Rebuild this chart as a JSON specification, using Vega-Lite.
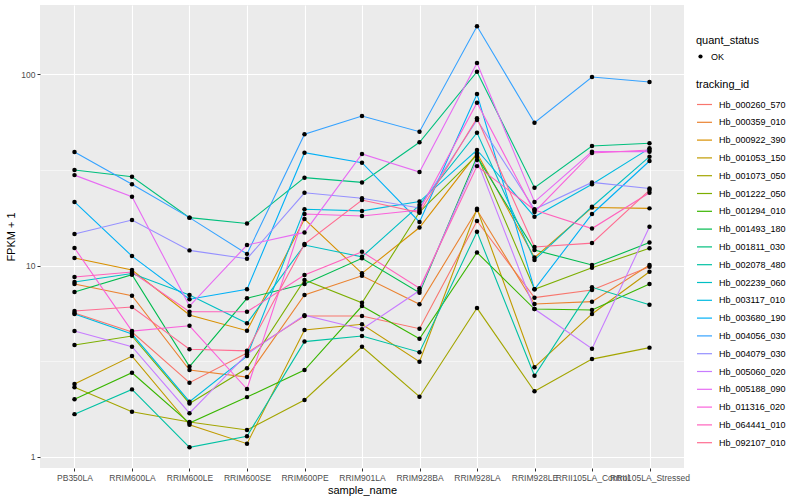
{
"$schema":"https://vega.github.io/schema/vega-lite/v6.json",
"autosize":{"type":"none"},
"padding":{"left":40,"top":5,"right":116,"bottom":32},
"width":644,"height":463,
"datasets":{"expr":[
{"tracking_id":"Hb_000260_570","sample_name":"PB350LA","fpkm":5.64,"quant_status":"OK"},
{"tracking_id":"Hb_000260_570","sample_name":"RRIM600LA","fpkm":4.49,"quant_status":"OK"},
{"tracking_id":"Hb_000260_570","sample_name":"RRIM600LE","fpkm":2.44,"quant_status":"OK"},
{"tracking_id":"Hb_000260_570","sample_name":"RRIM600SE","fpkm":3.49,"quant_status":"OK"},
{"tracking_id":"Hb_000260_570","sample_name":"RRIM600PE","fpkm":5.44,"quant_status":"OK"},
{"tracking_id":"Hb_000260_570","sample_name":"RRIM901LA","fpkm":5.44,"quant_status":"OK"},
{"tracking_id":"Hb_000260_570","sample_name":"RRIM928BA","fpkm":4.67,"quant_status":"OK"},
{"tracking_id":"Hb_000260_570","sample_name":"RRIM928LA","fpkm":17.1,"quant_status":"OK"},
{"tracking_id":"Hb_000260_570","sample_name":"RRIM928LE","fpkm":6.79,"quant_status":"OK"},
{"tracking_id":"Hb_000260_570","sample_name":"RRII105LA_Control","fpkm":7.45,"quant_status":"OK"},
{"tracking_id":"Hb_000260_570","sample_name":"RRII105LA_Stressed","fpkm":9.86,"quant_status":"OK"},
{"tracking_id":"Hb_000359_010","sample_name":"PB350LA","fpkm":8.0,"quant_status":"OK"},
{"tracking_id":"Hb_000359_010","sample_name":"RRIM600LA","fpkm":6.95,"quant_status":"OK"},
{"tracking_id":"Hb_000359_010","sample_name":"RRIM600LE","fpkm":2.84,"quant_status":"OK"},
{"tracking_id":"Hb_000359_010","sample_name":"RRIM600SE","fpkm":2.61,"quant_status":"OK"},
{"tracking_id":"Hb_000359_010","sample_name":"RRIM600PE","fpkm":7.01,"quant_status":"OK"},
{"tracking_id":"Hb_000359_010","sample_name":"RRIM901LA","fpkm":8.84,"quant_status":"OK"},
{"tracking_id":"Hb_000359_010","sample_name":"RRIM928BA","fpkm":6.27,"quant_status":"OK"},
{"tracking_id":"Hb_000359_010","sample_name":"RRIM928LA","fpkm":19.5,"quant_status":"OK"},
{"tracking_id":"Hb_000359_010","sample_name":"RRIM928LE","fpkm":6.29,"quant_status":"OK"},
{"tracking_id":"Hb_000359_010","sample_name":"RRII105LA_Control","fpkm":6.47,"quant_status":"OK"},
{"tracking_id":"Hb_000359_010","sample_name":"RRII105LA_Stressed","fpkm":10.06,"quant_status":"OK"},
{"tracking_id":"Hb_000922_390","sample_name":"PB350LA","fpkm":10.95,"quant_status":"OK"},
{"tracking_id":"Hb_000922_390","sample_name":"RRIM600LA","fpkm":9.47,"quant_status":"OK"},
{"tracking_id":"Hb_000922_390","sample_name":"RRIM600LE","fpkm":5.51,"quant_status":"OK"},
{"tracking_id":"Hb_000922_390","sample_name":"RRIM600SE","fpkm":4.56,"quant_status":"OK"},
{"tracking_id":"Hb_000922_390","sample_name":"RRIM600PE","fpkm":17.5,"quant_status":"OK"},
{"tracking_id":"Hb_000922_390","sample_name":"RRIM901LA","fpkm":9.1,"quant_status":"OK"},
{"tracking_id":"Hb_000922_390","sample_name":"RRIM928BA","fpkm":15.8,"quant_status":"OK"},
{"tracking_id":"Hb_000922_390","sample_name":"RRIM928LA","fpkm":38.6,"quant_status":"OK"},
{"tracking_id":"Hb_000922_390","sample_name":"RRIM928LE","fpkm":11.0,"quant_status":"OK"},
{"tracking_id":"Hb_000922_390","sample_name":"RRII105LA_Control","fpkm":20.1,"quant_status":"OK"},
{"tracking_id":"Hb_000922_390","sample_name":"RRII105LA_Stressed","fpkm":19.9,"quant_status":"OK"},
{"tracking_id":"Hb_001053_150","sample_name":"PB350LA","fpkm":2.4,"quant_status":"OK"},
{"tracking_id":"Hb_001053_150","sample_name":"RRIM600LA","fpkm":3.36,"quant_status":"OK"},
{"tracking_id":"Hb_001053_150","sample_name":"RRIM600LE","fpkm":1.47,"quant_status":"OK"},
{"tracking_id":"Hb_001053_150","sample_name":"RRIM600SE","fpkm":1.17,"quant_status":"OK"},
{"tracking_id":"Hb_001053_150","sample_name":"RRIM600PE","fpkm":4.6,"quant_status":"OK"},
{"tracking_id":"Hb_001053_150","sample_name":"RRIM901LA","fpkm":4.93,"quant_status":"OK"},
{"tracking_id":"Hb_001053_150","sample_name":"RRIM928BA","fpkm":3.14,"quant_status":"OK"},
{"tracking_id":"Hb_001053_150","sample_name":"RRIM928LA","fpkm":19.8,"quant_status":"OK"},
{"tracking_id":"Hb_001053_150","sample_name":"RRIM928LE","fpkm":2.94,"quant_status":"OK"},
{"tracking_id":"Hb_001053_150","sample_name":"RRII105LA_Control","fpkm":5.58,"quant_status":"OK"},
{"tracking_id":"Hb_001053_150","sample_name":"RRII105LA_Stressed","fpkm":9.28,"quant_status":"OK"},
{"tracking_id":"Hb_001073_050","sample_name":"PB350LA","fpkm":2.31,"quant_status":"OK"},
{"tracking_id":"Hb_001073_050","sample_name":"RRIM600LA","fpkm":1.72,"quant_status":"OK"},
{"tracking_id":"Hb_001073_050","sample_name":"RRIM600LE","fpkm":1.52,"quant_status":"OK"},
{"tracking_id":"Hb_001073_050","sample_name":"RRIM600SE","fpkm":1.38,"quant_status":"OK"},
{"tracking_id":"Hb_001073_050","sample_name":"RRIM600PE","fpkm":1.98,"quant_status":"OK"},
{"tracking_id":"Hb_001073_050","sample_name":"RRIM901LA","fpkm":3.76,"quant_status":"OK"},
{"tracking_id":"Hb_001073_050","sample_name":"RRIM928BA","fpkm":2.06,"quant_status":"OK"},
{"tracking_id":"Hb_001073_050","sample_name":"RRIM928LA","fpkm":5.99,"quant_status":"OK"},
{"tracking_id":"Hb_001073_050","sample_name":"RRIM928LE","fpkm":2.2,"quant_status":"OK"},
{"tracking_id":"Hb_001073_050","sample_name":"RRII105LA_Control","fpkm":3.24,"quant_status":"OK"},
{"tracking_id":"Hb_001073_050","sample_name":"RRII105LA_Stressed","fpkm":3.72,"quant_status":"OK"},
{"tracking_id":"Hb_001222_050","sample_name":"PB350LA","fpkm":3.84,"quant_status":"OK"},
{"tracking_id":"Hb_001222_050","sample_name":"RRIM600LA","fpkm":4.28,"quant_status":"OK"},
{"tracking_id":"Hb_001222_050","sample_name":"RRIM600LE","fpkm":1.9,"quant_status":"OK"},
{"tracking_id":"Hb_001222_050","sample_name":"RRIM600SE","fpkm":2.9,"quant_status":"OK"},
{"tracking_id":"Hb_001222_050","sample_name":"RRIM600PE","fpkm":8.4,"quant_status":"OK"},
{"tracking_id":"Hb_001222_050","sample_name":"RRIM901LA","fpkm":6.39,"quant_status":"OK"},
{"tracking_id":"Hb_001222_050","sample_name":"RRIM928BA","fpkm":19.05,"quant_status":"OK"},
{"tracking_id":"Hb_001222_050","sample_name":"RRIM928LA","fpkm":37.8,"quant_status":"OK"},
{"tracking_id":"Hb_001222_050","sample_name":"RRIM928LE","fpkm":7.51,"quant_status":"OK"},
{"tracking_id":"Hb_001222_050","sample_name":"RRII105LA_Control","fpkm":9.74,"quant_status":"OK"},
{"tracking_id":"Hb_001222_050","sample_name":"RRII105LA_Stressed","fpkm":12.3,"quant_status":"OK"},
{"tracking_id":"Hb_001294_010","sample_name":"PB350LA","fpkm":2.0,"quant_status":"OK"},
{"tracking_id":"Hb_001294_010","sample_name":"RRIM600LA","fpkm":2.75,"quant_status":"OK"},
{"tracking_id":"Hb_001294_010","sample_name":"RRIM600LE","fpkm":1.5,"quant_status":"OK"},
{"tracking_id":"Hb_001294_010","sample_name":"RRIM600SE","fpkm":2.05,"quant_status":"OK"},
{"tracking_id":"Hb_001294_010","sample_name":"RRIM600PE","fpkm":2.84,"quant_status":"OK"},
{"tracking_id":"Hb_001294_010","sample_name":"RRIM901LA","fpkm":6.14,"quant_status":"OK"},
{"tracking_id":"Hb_001294_010","sample_name":"RRIM928BA","fpkm":4.14,"quant_status":"OK"},
{"tracking_id":"Hb_001294_010","sample_name":"RRIM928LA","fpkm":11.7,"quant_status":"OK"},
{"tracking_id":"Hb_001294_010","sample_name":"RRIM928LE","fpkm":5.92,"quant_status":"OK"},
{"tracking_id":"Hb_001294_010","sample_name":"RRII105LA_Control","fpkm":5.85,"quant_status":"OK"},
{"tracking_id":"Hb_001294_010","sample_name":"RRII105LA_Stressed","fpkm":8.0,"quant_status":"OK"},
{"tracking_id":"Hb_001493_180","sample_name":"PB350LA","fpkm":7.27,"quant_status":"OK"},
{"tracking_id":"Hb_001493_180","sample_name":"RRIM600LA","fpkm":8.95,"quant_status":"OK"},
{"tracking_id":"Hb_001493_180","sample_name":"RRIM600LE","fpkm":2.96,"quant_status":"OK"},
{"tracking_id":"Hb_001493_180","sample_name":"RRIM600SE","fpkm":6.74,"quant_status":"OK"},
{"tracking_id":"Hb_001493_180","sample_name":"RRIM600PE","fpkm":8.0,"quant_status":"OK"},
{"tracking_id":"Hb_001493_180","sample_name":"RRIM901LA","fpkm":10.9,"quant_status":"OK"},
{"tracking_id":"Hb_001493_180","sample_name":"RRIM928BA","fpkm":7.21,"quant_status":"OK"},
{"tracking_id":"Hb_001493_180","sample_name":"RRIM928LA","fpkm":37.1,"quant_status":"OK"},
{"tracking_id":"Hb_001493_180","sample_name":"RRIM928LE","fpkm":12.05,"quant_status":"OK"},
{"tracking_id":"Hb_001493_180","sample_name":"RRII105LA_Control","fpkm":10.06,"quant_status":"OK"},
{"tracking_id":"Hb_001493_180","sample_name":"RRII105LA_Stressed","fpkm":13.2,"quant_status":"OK"},
{"tracking_id":"Hb_001811_030","sample_name":"PB350LA","fpkm":31.6,"quant_status":"OK"},
{"tracking_id":"Hb_001811_030","sample_name":"RRIM600LA","fpkm":29.1,"quant_status":"OK"},
{"tracking_id":"Hb_001811_030","sample_name":"RRIM600LE","fpkm":17.8,"quant_status":"OK"},
{"tracking_id":"Hb_001811_030","sample_name":"RRIM600SE","fpkm":16.6,"quant_status":"OK"},
{"tracking_id":"Hb_001811_030","sample_name":"RRIM600PE","fpkm":28.8,"quant_status":"OK"},
{"tracking_id":"Hb_001811_030","sample_name":"RRIM901LA","fpkm":27.2,"quant_status":"OK"},
{"tracking_id":"Hb_001811_030","sample_name":"RRIM928BA","fpkm":44.1,"quant_status":"OK"},
{"tracking_id":"Hb_001811_030","sample_name":"RRIM928LA","fpkm":103.2,"quant_status":"OK"},
{"tracking_id":"Hb_001811_030","sample_name":"RRIM928LE","fpkm":25.5,"quant_status":"OK"},
{"tracking_id":"Hb_001811_030","sample_name":"RRII105LA_Control","fpkm":42.2,"quant_status":"OK"},
{"tracking_id":"Hb_001811_030","sample_name":"RRII105LA_Stressed","fpkm":43.6,"quant_status":"OK"},
{"tracking_id":"Hb_002078_480","sample_name":"PB350LA","fpkm":1.67,"quant_status":"OK"},
{"tracking_id":"Hb_002078_480","sample_name":"RRIM600LA","fpkm":2.25,"quant_status":"OK"},
{"tracking_id":"Hb_002078_480","sample_name":"RRIM600LE","fpkm":1.12,"quant_status":"OK"},
{"tracking_id":"Hb_002078_480","sample_name":"RRIM600SE","fpkm":1.28,"quant_status":"OK"},
{"tracking_id":"Hb_002078_480","sample_name":"RRIM600PE","fpkm":4.0,"quant_status":"OK"},
{"tracking_id":"Hb_002078_480","sample_name":"RRIM901LA","fpkm":4.28,"quant_status":"OK"},
{"tracking_id":"Hb_002078_480","sample_name":"RRIM928BA","fpkm":3.52,"quant_status":"OK"},
{"tracking_id":"Hb_002078_480","sample_name":"RRIM928LA","fpkm":15.0,"quant_status":"OK"},
{"tracking_id":"Hb_002078_480","sample_name":"RRIM928LE","fpkm":2.65,"quant_status":"OK"},
{"tracking_id":"Hb_002078_480","sample_name":"RRII105LA_Control","fpkm":7.69,"quant_status":"OK"},
{"tracking_id":"Hb_002078_480","sample_name":"RRII105LA_Stressed","fpkm":6.24,"quant_status":"OK"},
{"tracking_id":"Hb_002239_060","sample_name":"PB350LA","fpkm":8.2,"quant_status":"OK"},
{"tracking_id":"Hb_002239_060","sample_name":"RRIM600LA","fpkm":9.08,"quant_status":"OK"},
{"tracking_id":"Hb_002239_060","sample_name":"RRIM600LE","fpkm":7.01,"quant_status":"OK"},
{"tracking_id":"Hb_002239_060","sample_name":"RRIM600SE","fpkm":4.99,"quant_status":"OK"},
{"tracking_id":"Hb_002239_060","sample_name":"RRIM600PE","fpkm":12.8,"quant_status":"OK"},
{"tracking_id":"Hb_002239_060","sample_name":"RRIM901LA","fpkm":11.1,"quant_status":"OK"},
{"tracking_id":"Hb_002239_060","sample_name":"RRIM928BA","fpkm":20.7,"quant_status":"OK"},
{"tracking_id":"Hb_002239_060","sample_name":"RRIM928LA","fpkm":49.5,"quant_status":"OK"},
{"tracking_id":"Hb_002239_060","sample_name":"RRIM928LE","fpkm":10.7,"quant_status":"OK"},
{"tracking_id":"Hb_002239_060","sample_name":"RRII105LA_Control","fpkm":20.3,"quant_status":"OK"},
{"tracking_id":"Hb_002239_060","sample_name":"RRII105LA_Stressed","fpkm":37.1,"quant_status":"OK"},
{"tracking_id":"Hb_003117_010","sample_name":"PB350LA","fpkm":5.58,"quant_status":"OK"},
{"tracking_id":"Hb_003117_010","sample_name":"RRIM600LA","fpkm":4.38,"quant_status":"OK"},
{"tracking_id":"Hb_003117_010","sample_name":"RRIM600LE","fpkm":1.94,"quant_status":"OK"},
{"tracking_id":"Hb_003117_010","sample_name":"RRIM600SE","fpkm":3.36,"quant_status":"OK"},
{"tracking_id":"Hb_003117_010","sample_name":"RRIM600PE","fpkm":19.7,"quant_status":"OK"},
{"tracking_id":"Hb_003117_010","sample_name":"RRIM901LA","fpkm":19.3,"quant_status":"OK"},
{"tracking_id":"Hb_003117_010","sample_name":"RRIM928BA","fpkm":21.6,"quant_status":"OK"},
{"tracking_id":"Hb_003117_010","sample_name":"RRIM928LA","fpkm":40.2,"quant_status":"OK"},
{"tracking_id":"Hb_003117_010","sample_name":"RRIM928LE","fpkm":18.0,"quant_status":"OK"},
{"tracking_id":"Hb_003117_010","sample_name":"RRII105LA_Control","fpkm":26.6,"quant_status":"OK"},
{"tracking_id":"Hb_003117_010","sample_name":"RRII105LA_Stressed","fpkm":41.0,"quant_status":"OK"},
{"tracking_id":"Hb_003680_190","sample_name":"PB350LA","fpkm":21.5,"quant_status":"OK"},
{"tracking_id":"Hb_003680_190","sample_name":"RRIM600LA","fpkm":11.2,"quant_status":"OK"},
{"tracking_id":"Hb_003680_190","sample_name":"RRIM600LE","fpkm":6.66,"quant_status":"OK"},
{"tracking_id":"Hb_003680_190","sample_name":"RRIM600SE","fpkm":7.51,"quant_status":"OK"},
{"tracking_id":"Hb_003680_190","sample_name":"RRIM600PE","fpkm":38.9,"quant_status":"OK"},
{"tracking_id":"Hb_003680_190","sample_name":"RRIM901LA","fpkm":34.5,"quant_status":"OK"},
{"tracking_id":"Hb_003680_190","sample_name":"RRIM928BA","fpkm":16.9,"quant_status":"OK"},
{"tracking_id":"Hb_003680_190","sample_name":"RRIM928LA","fpkm":78.9,"quant_status":"OK"},
{"tracking_id":"Hb_003680_190","sample_name":"RRIM928LE","fpkm":7.51,"quant_status":"OK"},
{"tracking_id":"Hb_003680_190","sample_name":"RRII105LA_Control","fpkm":18.6,"quant_status":"OK"},
{"tracking_id":"Hb_003680_190","sample_name":"RRII105LA_Stressed","fpkm":35.2,"quant_status":"OK"},
{"tracking_id":"Hb_004056_030","sample_name":"PB350LA","fpkm":39.2,"quant_status":"OK"},
{"tracking_id":"Hb_004056_030","sample_name":"RRIM600LA","fpkm":26.6,"quant_status":"OK"},
{"tracking_id":"Hb_004056_030","sample_name":"RRIM600LE","fpkm":17.8,"quant_status":"OK"},
{"tracking_id":"Hb_004056_030","sample_name":"RRIM600SE","fpkm":11.5,"quant_status":"OK"},
{"tracking_id":"Hb_004056_030","sample_name":"RRIM600PE","fpkm":48.6,"quant_status":"OK"},
{"tracking_id":"Hb_004056_030","sample_name":"RRIM901LA","fpkm":60.5,"quant_status":"OK"},
{"tracking_id":"Hb_004056_030","sample_name":"RRIM928BA","fpkm":50.1,"quant_status":"OK"},
{"tracking_id":"Hb_004056_030","sample_name":"RRIM928LA","fpkm":178.2,"quant_status":"OK"},
{"tracking_id":"Hb_004056_030","sample_name":"RRIM928LE","fpkm":55.8,"quant_status":"OK"},
{"tracking_id":"Hb_004056_030","sample_name":"RRII105LA_Control","fpkm":96.8,"quant_status":"OK"},
{"tracking_id":"Hb_004056_030","sample_name":"RRII105LA_Stressed","fpkm":91.1,"quant_status":"OK"},
{"tracking_id":"Hb_004079_030","sample_name":"PB350LA","fpkm":14.6,"quant_status":"OK"},
{"tracking_id":"Hb_004079_030","sample_name":"RRIM600LA","fpkm":17.3,"quant_status":"OK"},
{"tracking_id":"Hb_004079_030","sample_name":"RRIM600LE","fpkm":12.0,"quant_status":"OK"},
{"tracking_id":"Hb_004079_030","sample_name":"RRIM600SE","fpkm":10.85,"quant_status":"OK"},
{"tracking_id":"Hb_004079_030","sample_name":"RRIM600PE","fpkm":24.0,"quant_status":"OK"},
{"tracking_id":"Hb_004079_030","sample_name":"RRIM901LA","fpkm":22.5,"quant_status":"OK"},
{"tracking_id":"Hb_004079_030","sample_name":"RRIM928BA","fpkm":20.0,"quant_status":"OK"},
{"tracking_id":"Hb_004079_030","sample_name":"RRIM928LA","fpkm":57.7,"quant_status":"OK"},
{"tracking_id":"Hb_004079_030","sample_name":"RRIM928LE","fpkm":19.7,"quant_status":"OK"},
{"tracking_id":"Hb_004079_030","sample_name":"RRII105LA_Control","fpkm":27.2,"quant_status":"OK"},
{"tracking_id":"Hb_004079_030","sample_name":"RRII105LA_Stressed","fpkm":25.3,"quant_status":"OK"},
{"tracking_id":"Hb_005060_020","sample_name":"PB350LA","fpkm":4.54,"quant_status":"OK"},
{"tracking_id":"Hb_005060_020","sample_name":"RRIM600LA","fpkm":3.76,"quant_status":"OK"},
{"tracking_id":"Hb_005060_020","sample_name":"RRIM600LE","fpkm":1.69,"quant_status":"OK"},
{"tracking_id":"Hb_005060_020","sample_name":"RRIM600SE","fpkm":3.44,"quant_status":"OK"},
{"tracking_id":"Hb_005060_020","sample_name":"RRIM600PE","fpkm":5.5,"quant_status":"OK"},
{"tracking_id":"Hb_005060_020","sample_name":"RRIM901LA","fpkm":4.64,"quant_status":"OK"},
{"tracking_id":"Hb_005060_020","sample_name":"RRIM928BA","fpkm":7.4,"quant_status":"OK"},
{"tracking_id":"Hb_005060_020","sample_name":"RRIM928LA","fpkm":35.6,"quant_status":"OK"},
{"tracking_id":"Hb_005060_020","sample_name":"RRIM928LE","fpkm":5.92,"quant_status":"OK"},
{"tracking_id":"Hb_005060_020","sample_name":"RRII105LA_Control","fpkm":3.67,"quant_status":"OK"},
{"tracking_id":"Hb_005060_020","sample_name":"RRII105LA_Stressed","fpkm":15.95,"quant_status":"OK"},
{"tracking_id":"Hb_005188_090","sample_name":"PB350LA","fpkm":29.7,"quant_status":"OK"},
{"tracking_id":"Hb_005188_090","sample_name":"RRIM600LA","fpkm":22.9,"quant_status":"OK"},
{"tracking_id":"Hb_005188_090","sample_name":"RRIM600LE","fpkm":6.14,"quant_status":"OK"},
{"tracking_id":"Hb_005188_090","sample_name":"RRIM600SE","fpkm":12.8,"quant_status":"OK"},
{"tracking_id":"Hb_005188_090","sample_name":"RRIM600PE","fpkm":14.9,"quant_status":"OK"},
{"tracking_id":"Hb_005188_090","sample_name":"RRIM901LA","fpkm":38.3,"quant_status":"OK"},
{"tracking_id":"Hb_005188_090","sample_name":"RRIM928BA","fpkm":30.8,"quant_status":"OK"},
{"tracking_id":"Hb_005188_090","sample_name":"RRIM928LA","fpkm":114.6,"quant_status":"OK"},
{"tracking_id":"Hb_005188_090","sample_name":"RRIM928LE","fpkm":21.5,"quant_status":"OK"},
{"tracking_id":"Hb_005188_090","sample_name":"RRII105LA_Control","fpkm":39.4,"quant_status":"OK"},
{"tracking_id":"Hb_005188_090","sample_name":"RRII105LA_Stressed","fpkm":39.4,"quant_status":"OK"},
{"tracking_id":"Hb_011316_020","sample_name":"PB350LA","fpkm":12.35,"quant_status":"OK"},
{"tracking_id":"Hb_011316_020","sample_name":"RRIM600LA","fpkm":4.54,"quant_status":"OK"},
{"tracking_id":"Hb_011316_020","sample_name":"RRIM600LE","fpkm":4.84,"quant_status":"OK"},
{"tracking_id":"Hb_011316_020","sample_name":"RRIM600SE","fpkm":2.26,"quant_status":"OK"},
{"tracking_id":"Hb_011316_020","sample_name":"RRIM600PE","fpkm":18.6,"quant_status":"OK"},
{"tracking_id":"Hb_011316_020","sample_name":"RRIM901LA","fpkm":18.15,"quant_status":"OK"},
{"tracking_id":"Hb_011316_020","sample_name":"RRIM928BA","fpkm":19.5,"quant_status":"OK"},
{"tracking_id":"Hb_011316_020","sample_name":"RRIM928LA","fpkm":71.0,"quant_status":"OK"},
{"tracking_id":"Hb_011316_020","sample_name":"RRIM928LE","fpkm":19.05,"quant_status":"OK"},
{"tracking_id":"Hb_011316_020","sample_name":"RRII105LA_Control","fpkm":38.8,"quant_status":"OK"},
{"tracking_id":"Hb_011316_020","sample_name":"RRII105LA_Stressed","fpkm":40.2,"quant_status":"OK"},
{"tracking_id":"Hb_064441_010","sample_name":"PB350LA","fpkm":8.71,"quant_status":"OK"},
{"tracking_id":"Hb_064441_010","sample_name":"RRIM600LA","fpkm":9.25,"quant_status":"OK"},
{"tracking_id":"Hb_064441_010","sample_name":"RRIM600LE","fpkm":5.73,"quant_status":"OK"},
{"tracking_id":"Hb_064441_010","sample_name":"RRIM600SE","fpkm":5.73,"quant_status":"OK"},
{"tracking_id":"Hb_064441_010","sample_name":"RRIM600PE","fpkm":8.92,"quant_status":"OK"},
{"tracking_id":"Hb_064441_010","sample_name":"RRIM901LA","fpkm":11.8,"quant_status":"OK"},
{"tracking_id":"Hb_064441_010","sample_name":"RRIM928BA","fpkm":7.6,"quant_status":"OK"},
{"tracking_id":"Hb_064441_010","sample_name":"RRIM928LA","fpkm":33.1,"quant_status":"OK"},
{"tracking_id":"Hb_064441_010","sample_name":"RRIM928LE","fpkm":19.5,"quant_status":"OK"},
{"tracking_id":"Hb_064441_010","sample_name":"RRII105LA_Control","fpkm":15.6,"quant_status":"OK"},
{"tracking_id":"Hb_064441_010","sample_name":"RRII105LA_Stressed","fpkm":24.0,"quant_status":"OK"},
{"tracking_id":"Hb_092107_010","sample_name":"PB350LA","fpkm":5.78,"quant_status":"OK"},
{"tracking_id":"Hb_092107_010","sample_name":"RRIM600LA","fpkm":6.07,"quant_status":"OK"},
{"tracking_id":"Hb_092107_010","sample_name":"RRIM600LE","fpkm":3.65,"quant_status":"OK"},
{"tracking_id":"Hb_092107_010","sample_name":"RRIM600SE","fpkm":3.58,"quant_status":"OK"},
{"tracking_id":"Hb_092107_010","sample_name":"RRIM600PE","fpkm":12.95,"quant_status":"OK"},
{"tracking_id":"Hb_092107_010","sample_name":"RRIM901LA","fpkm":22.0,"quant_status":"OK"},
{"tracking_id":"Hb_092107_010","sample_name":"RRIM928BA","fpkm":18.9,"quant_status":"OK"},
{"tracking_id":"Hb_092107_010","sample_name":"RRIM928LA","fpkm":58.9,"quant_status":"OK"},
{"tracking_id":"Hb_092107_010","sample_name":"RRIM928LE","fpkm":12.5,"quant_status":"OK"},
{"tracking_id":"Hb_092107_010","sample_name":"RRII105LA_Control","fpkm":13.1,"quant_status":"OK"},
{"tracking_id":"Hb_092107_010","sample_name":"RRII105LA_Stressed","fpkm":24.8,"quant_status":"OK"}
]},
"data":{"name":"expr"},
"encoding":{
  "x":{"field":"sample_name","type":"nominal",
    "sort":["PB350LA","RRIM600LA","RRIM600LE","RRIM600SE","RRIM600PE","RRIM901LA","RRIM928BA","RRIM928LA","RRIM928LE","RRII105LA_Control","RRII105LA_Stressed"],
    "scale":{"type":"point","padding":0.6},
    "axis":{"title":"sample_name","labelAngle":0,"grid":true,"gridColor":"white","gridWidth":1.1,"domain":false,"tickSize":3,"labelPadding":2,"titlePadding":3,"labelFontSize":8.5}},
  "y":{"field":"fpkm","type":"quantitative",
    "scale":{"type":"log","domain":[0.873,230.4],"nice":false},
    "axis":{"title":"FPKM + 1","values":[1,3.1623,10,31.623,100],
      "labelExpr":"indexof([1,10,100], datum.value) >= 0 ? datum.label : ''",
      "grid":true,"gridColor":"white",
      "gridWidth":{"condition":{"test":"indexof([1,10,100], datum.value) >= 0","value":1.1},"value":0.5},
      "tickOpacity":{"condition":{"test":"indexof([1,10,100], datum.value) >= 0","value":1},"value":0},
      "domain":false,"tickSize":3,"labelPadding":2,"titlePadding":4,"labelFontSize":8.5}}
},
"layer":[
  {"mark":{"type":"line","strokeWidth":1.1},
   "encoding":{
     "order":{"value":null},
     "color":{"field":"tracking_id","type":"nominal",
       "scale":{"domain":["Hb_000260_570","Hb_000359_010","Hb_000922_390","Hb_001053_150","Hb_001073_050","Hb_001222_050","Hb_001294_010","Hb_001493_180","Hb_001811_030","Hb_002078_480","Hb_002239_060","Hb_003117_010","Hb_003680_190","Hb_004056_030","Hb_004079_030","Hb_005060_020","Hb_005188_090","Hb_011316_020","Hb_064441_010","Hb_092107_010"],
         "range":["#F8766D","#EA8331","#D89000","#C09B00","#A3A500","#7CAE00","#39B600","#00BB4E","#00BF7D","#00C1A3","#00BFC4","#00BAE0","#00B0F6","#35A2FF","#9590FF","#C77CFF","#E76BF3","#FA62DB","#FF62BC","#FF6C91"]},
       "legend":{"title":"tracking_id","orient":"none","legendX":656,"legendY":74,"symbolType":"stroke","symbolSize":225,"symbolStrokeWidth":1.2,"rowPadding":3.8}}
   }},
  {"mark":{"type":"point","filled":true,"size":20,"opacity":1},
   "encoding":{
     "color":{"value":"black"},
     "shape":{"field":"quant_status","type":"nominal","scale":{"range":["circle"]},
       "legend":{"title":"quant_status","orient":"none","legendX":656,"legendY":30,"symbolSize":18}}
   }}
],
"config":{
  "font":"Liberation Sans",
  "view":{"fill":"#EBEBEB","stroke":null},
  "axis":{"labelColor":"#4D4D4D","tickColor":"#333333","titleFontWeight":"normal","titleFontSize":11,"titleColor":"black"},
  "legend":{"titleFontWeight":"normal","titleFontSize":11,"titleColor":"black","labelFontSize":9,"labelColor":"black","titlePadding":6,"labelOffset":6}
}
}
